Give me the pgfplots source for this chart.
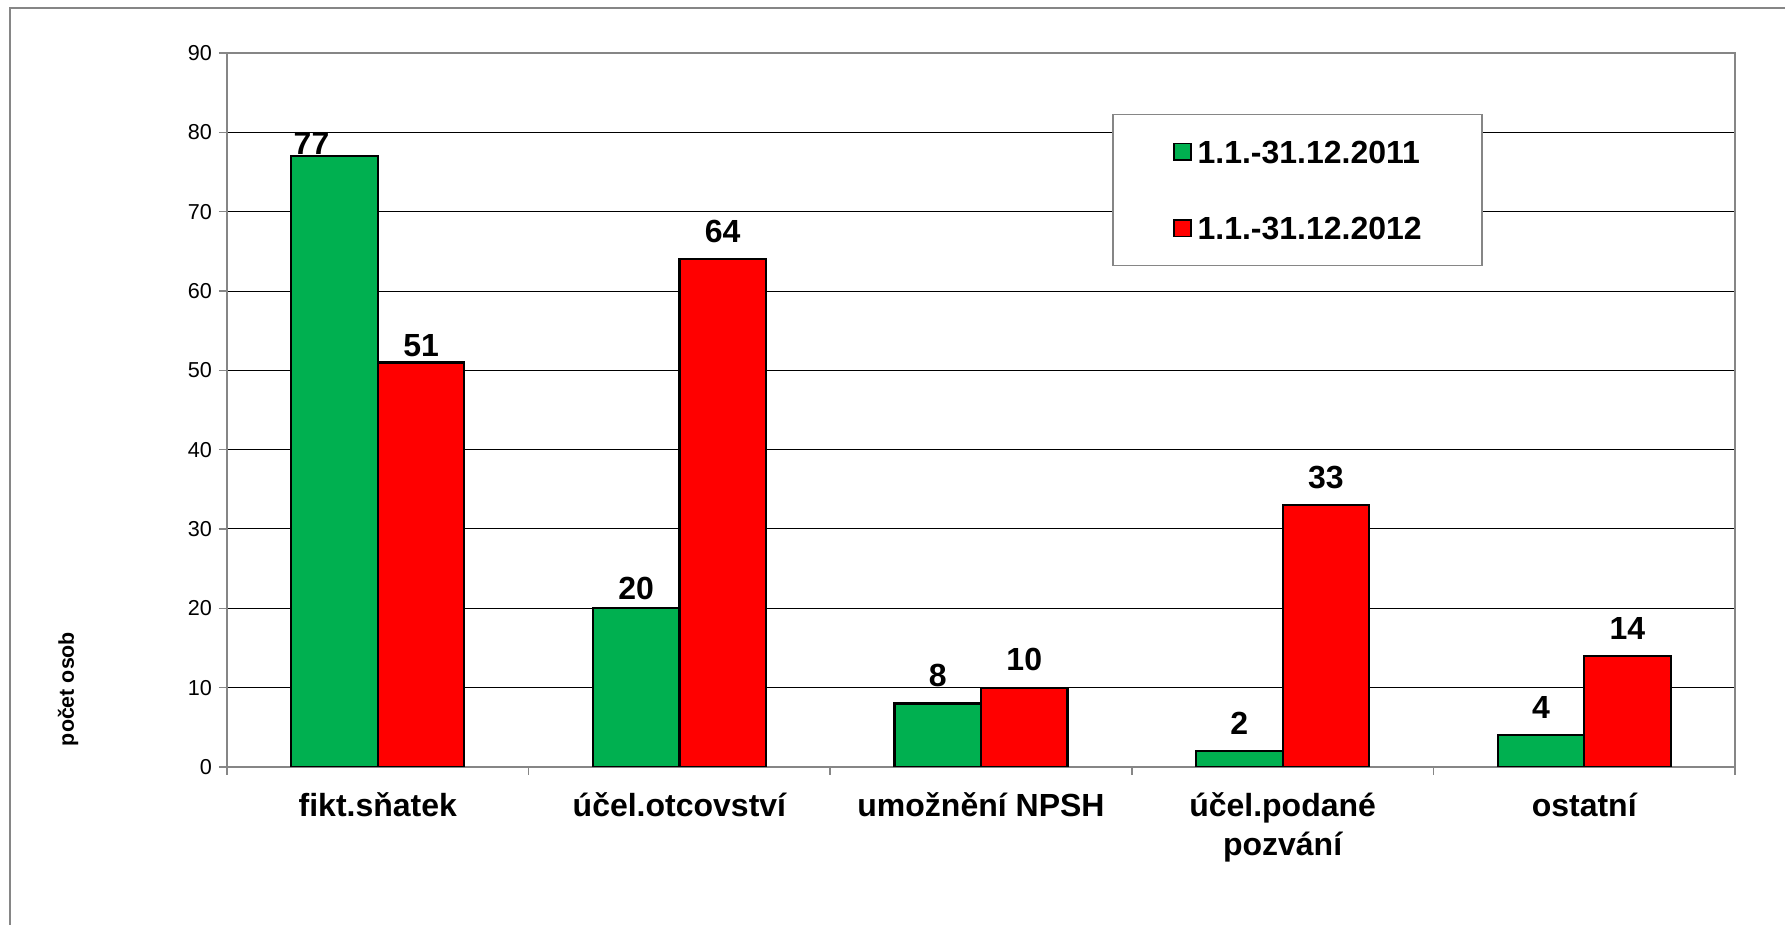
\documentclass[border=0pt]{standalone}
\usepackage{fontspec}
\setmainfont{Liberation Sans}
\usepackage{pgfplots}
\pgfplotsset{compat=1.18}
\definecolor{xgreen}{HTML}{00B050}
\definecolor{xred}{HTML}{FF0000}
\definecolor{axgray}{HTML}{868686}
\pgfplotsset{sqlegend/.style={legend image code/.code={\draw[##1, draw=black, line width=0.9pt] (0pt,-4.2pt) rectangle (8.4pt,4.2pt);}}}
\begin{document}
\begin{tikzpicture}
\useasboundingbox (0,0) rectangle (892.5pt,462.5pt);
\draw[axgray, line width=0.75pt] (5pt,0) -- (5pt,458.5pt) -- (892.5pt,458.5pt);
\node[rotate=90, font=\bfseries\fontsize{10.7}{12}\selectfont] at (34pt,118pt) {počet osob};
\begin{axis}[
  at={(113.5pt,79pt)}, anchor=south west,
  width=754pt, height=357pt, scale only axis,
  ybar=0pt, bar width=0.287,
  xmin=-0.5, xmax=4.5, ymin=0, ymax=90,
  ytick={0,10,...,90},
  xtick={-0.5,0.5,1.5,2.5,3.5,4.5},
  x tick label as interval,
  xticklabels={{\strut fikt.sňatek},{\strut účel.otcovství},{\strut umožnění NPSH},{\strut účel.podané\\pozvání},{\strut ostatní}},
  xtick style={axgray, line width=0.75pt},
  ytick style={axgray, line width=0.75pt},
  major tick length=4pt,
  tick align=outside,
  xtick pos=bottom, ytick pos=left,
  axis line style={axgray, line width=0.75pt},
  ymajorgrids, grid style={black, line width=0.5pt},
  /pgf/number format/assume math mode=true,
  yticklabel style={font=\fontsize{10.8}{12}\selectfont},
  xticklabel style={font=\bfseries\fontsize{16}{19.4}\selectfont, align=center, anchor=north, inner sep=0pt, yshift=-7.1pt},
  nodes near coords,
  visualization depends on={rawy \as \rawy},
  every node near coord/.append style={font=\bfseries\fontsize{16}{18}\selectfont, anchor=south, inner sep=0pt,
     yshift={ifthenelse(\rawy==77,0.2,ifthenelse(\rawy==51,2.4,ifthenelse(\rawy==20,3.5,7.7)))*1pt},
     xshift={ifthenelse(\rawy==77,-11.5,0)*1pt}},
  legend style={at={(0.587,0.915)}, anchor=north west, draw=axgray, line width=0.75pt, fill=white,
     inner xsep=30pt, inner ysep=12.95pt, row sep=26.6pt, column sep=3pt,
     font=\bfseries\fontsize{16}{18}\selectfont,
     nodes={inner sep=0pt, text height=11.5pt, text depth=0pt}},
  legend cell align=left,
]
\addplot[fill=xgreen, draw=black, line width=1.1pt, sqlegend]
  coordinates {(0,77) (1,20) (2,8) (3,2) (4,4)};
\addplot[fill=xred, draw=black, line width=1.1pt, sqlegend]
  coordinates {(0,51) (1,64) (2,10) (3,33) (4,14)};
\legend{1.1.-31.12.2011,1.1.-31.12.2012}
\end{axis}
\end{tikzpicture}
\end{document}
